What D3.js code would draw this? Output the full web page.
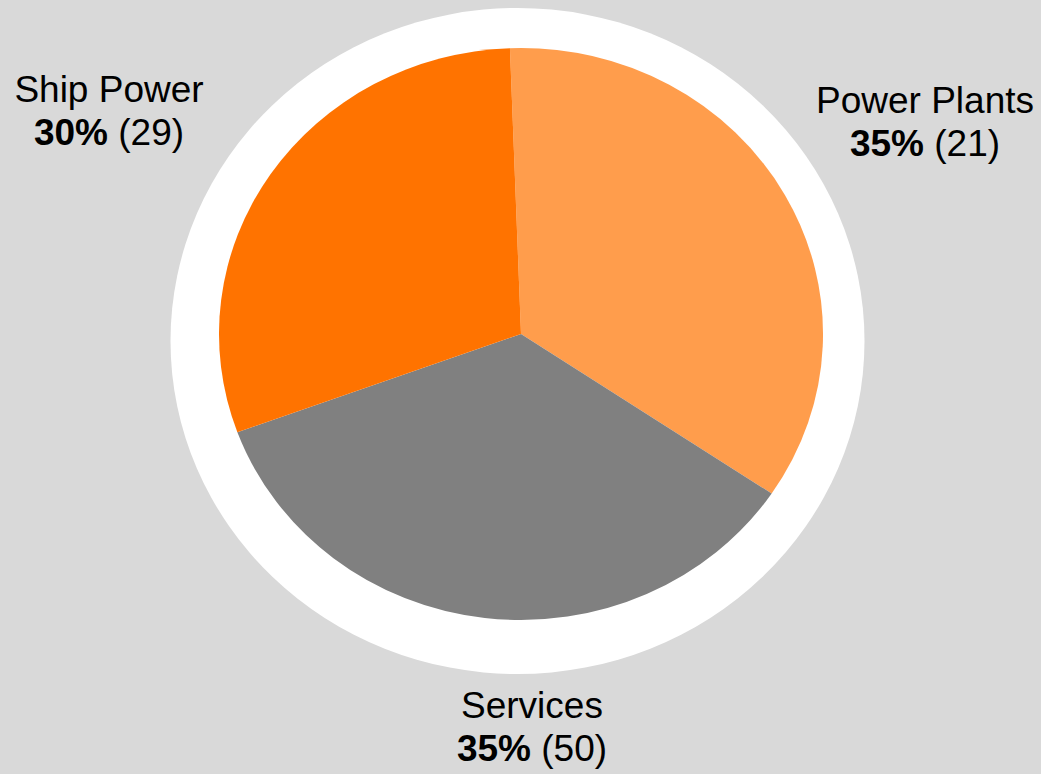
<!DOCTYPE html>
<html>
<head>
<meta charset="utf-8">
<script src="https://cdn.jsdelivr.net/npm/d3@7"></script>
<style>
  html, body { margin: 0; padding: 0; background: #d9d9d9; }
  svg { display: block; }
  text { font-family: "Liberation Sans", Arial, sans-serif; fill: #000; }
</style>
</head>
<body>
<svg id="chart" width="1041" height="774"></svg>
<script>
// data
var categories = ["Power Plants", "Services", "Ship Power"];
var percents = [35, 35, 30];
var counts = [21, 50, 29];
var colors = ["#ff9d4c", "#808080", "#ff7300"];

var width = 1041,
    height = 774;

var svg = d3.select("#chart");

svg.append("rect")
    .attr("width", width)
    .attr("height", height)
    .attr("fill", "#d9d9d9");

// white halo behind the pie (slightly wider than tall, like the original)
svg.append("ellipse")
    .attr("cx", 517.5)
    .attr("cy", 341)
    .attr("rx", 347)
    .attr("ry", 333)
    .attr("fill", "#ffffff");

var radius = 286,
    stretchX = 1.056;

var startAngle = -2.1 * Math.PI / 180;

var pie = d3.pie()
    .sort(null)
    .value(function (d) { return d; })
    .startAngle(startAngle)
    .endAngle(startAngle + 2 * Math.PI);

var arc = d3.arc()
    .innerRadius(0)
    .outerRadius(radius);

var g = svg.append("g")
    .attr("transform", "translate(521,334) scale(" + stretchX + ",1)");

g.selectAll("path")
    .data(pie(percents))
    .enter()
    .append("path")
    .attr("d", arc)
    .attr("fill", function (d, i) { return colors[i]; });

// label anchors (layout only)
var labelAnchor = {
    "Power Plants": [925, 113],
    "Services": [532, 718],
    "Ship Power": [109, 102]
};
var lineGap = 43;

var labels = svg.selectAll("text.label")
    .data(categories)
    .enter()
    .append("text")
    .attr("class", "label")
    .attr("text-anchor", "middle")
    .attr("font-size", 37)
    .attr("x", function (d) { return labelAnchor[d][0]; })
    .attr("y", function (d) { return labelAnchor[d][1]; });

labels.append("tspan")
    .text(function (d) { return d; });

var second = labels.append("tspan")
    .attr("x", function (d) { return labelAnchor[d][0]; })
    .attr("dy", lineGap);

second.append("tspan")
    .attr("font-weight", "bold")
    .text(function (d, i) { return percents[i] + "%"; });

second.append("tspan")
    .text(function (d, i) { return " (" + counts[i] + ")"; });
</script>
</body>
</html>
